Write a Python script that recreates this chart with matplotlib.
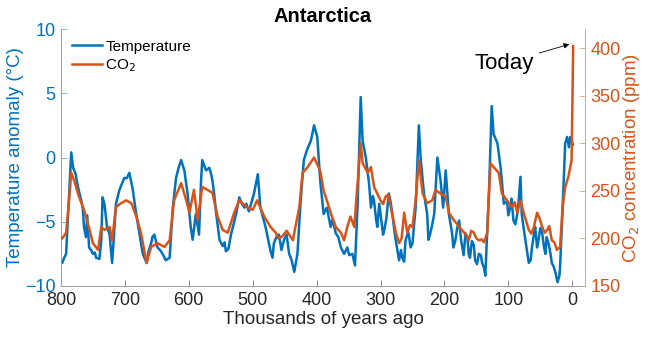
import matplotlib
matplotlib.use("Agg")
import matplotlib.pyplot as plt
import numpy as np

plt.rcParams['font.family'] = ['Liberation Sans', 'DejaVu Sans']

# ---- data (ages in thousands of years ago) ----
temp_age = [800, 798, 795, 792, 788, 784, 781, 777, 772, 766, 764, 759, 756, 750, 745, 740, 737,
            735, 732, 728, 724, 720, 717, 714, 709, 701, 693, 688, 682, 677, 672, 666, 659, 654,
            649, 641, 636, 630, 625, 620, 612, 607, 602, 597, 594, 589, 584, 581, 579, 573, 568,
            563, 557, 552, 547, 542, 534, 526, 521, 513, 506, 498, 492, 488, 480, 472, 467, 459,
            451, 443, 435, 430, 425, 420, 415, 409, 404, 399, 394, 389, 384, 378, 370, 362, 357,
            352, 344, 340, 336, 331, 328, 323, 318, 315, 310, 305, 300, 294, 287, 281, 276, 271,
            266, 261, 256, 250, 245, 240, 237, 232, 227, 222, 216, 211, 206, 202, 198, 193, 188,
            183, 177, 172, 167, 162, 157, 152, 146, 141, 136, 130, 126, 123, 117, 112, 107, 102,
            97, 92, 86, 81, 79, 73, 68, 63, 58, 53, 47, 42, 37, 32, 26, 23, 19, 15, 11, 8, 5, 1, -1,
            469, 463, 455, 447, 439,
            186, 180, 174, 170, 164, 160, 154, 149, 143, 138,
            100, 95, 89, 84, 76, 70, 65, 60, 55, 50, 44, 40, 34, 29,
            296, 291, 284, 278, 268, 263, 258, 253, 248,
            775, 769, 761, 753, 747, 706, 697, 663, 657, 645, 616, 565, 560, 544, 538, 517, 510,
            375, 366, 349, 312, 307, 302, 225, 219, 20, 3]
temp_val = [-8.2, -8.2, -7.8, -7.5, -3.5, 0.4, -0.8, -1.3, -2.6, -3.9, -5.4, -4.5, -7.0, -7.5,
            -7.8, -7.9, -6.5, -3.1, -3.6, -5.4, -6.0, -8.2, -6.0, -3.6, -2.6, -1.6, -1.2, -2.4,
            -4.5, -6.0, -7.5, -8.2, -6.7, -6.0, -7.0, -7.5, -8.0, -7.8, -3.9, -1.6, -0.2, -1.0,
            -2.8, -5.4, -6.4, -4.4, -6.0, -2.0, -0.2, -1.0, -0.8, -1.8, -4.4, -6.4, -6.9, -7.3,
            -6.0, -4.4, -3.1, -3.9, -4.2, -2.8, -1.3, -3.9, -5.4, -7.3, -6.7, -6.0, -6.4, -7.5,
            -8.9, -7.5, -3.4, -0.2, 0.6, 1.3, 2.5, 1.6, -2.0, -4.4, -3.9, -5.4, -5.9, -7.0,
            -7.5, -7.0, -7.5, -8.4, -3.9, 4.7, 1.3, 0.0, -2.0, -3.9, -3.4, -5.4, -4.4, -5.6,
            -2.8, -4.6, -6.5, -8.0, -7.8, -6.5, -5.9, -6.7, -3.9, 2.5, -0.2, -2.8, -4.4, -5.9,
            -4.4, 0.0, -1.8, -3.9, -1.0, -4.4, -5.9, -6.5, -4.9, -7.0, -5.9, -7.5, -6.5, -8.0,
            -7.5, -8.2, -9.2, -2.3, 4.0, 1.8, 1.1, -0.8, -3.6, -3.4, -3.9, -4.9, -4.4, -1.5,
            -4.4, -6.5, -8.2, -7.0, -5.4, -6.5, -5.9, -7.5, -6.7, -8.2, -9.0, -9.7, -8.5, -3.9,
            1.1, 1.6, 0.8, 1.3, 1.0,
            -7.8, -6.2, -7.2, -6.0, -8.0,
            -7.0, -5.5, -6.4, -7.6, -6.2, -7.8, -6.8, -8.3, -7.6, -8.6,
            -4.5, -3.2, -5.2, -3.5, -5.5, -7.5, -8.0, -6.0, -7.0, -5.5, -7.0, -6.2, -7.5, -8.5,
            -6.0, -4.8, -3.5, -5.8, -7.2, -8.1, -6.0, -7.0, -5.5,
            -1.9, -3.2, -6.2, -7.2, -7.4, -2.2, -1.6, -7.3, -6.2, -7.2, -0.8, -1.3, -3.0, -6.6,
            -7.1, -3.6, -3.6, -4.8, -6.2, -7.6, -3.0, -4.8, -3.6, -6.4, -5.2, -9.2, 1.6]

co2_age = [800, 798, 792, 788, 784, 779, 772, 764, 758, 750, 742, 737, 732, 724, 720, 714, 706,
           698, 690, 682, 675, 666, 659, 649, 638, 630, 623, 612, 604, 599, 592, 586, 579, 571,
           563, 555, 547, 539, 529, 521, 510, 500, 493, 482, 472, 464, 454, 441, 435, 427, 422,
           415, 404, 397, 394, 389, 384, 378, 370, 362, 357, 352, 347, 341, 338, 331, 328, 320,
           315, 310, 305, 300, 292, 284, 276, 271, 263, 258, 250, 245, 240, 234, 227, 219, 214,
           206, 198, 193, 185, 177, 169, 162, 154, 146, 138, 133, 128, 123, 115, 110, 102, 94,
           86, 81, 76, 68, 60, 55, 47, 39, 32, 24, 19, 15, 11, 6, 1, -1.5,
           460, 447, 437,
           180, 173, 165, 158, 150, 142,
           98, 90, 84, 72, 64, 51, 43, 36, 28,
           296, 288, 280, 267, 254]
co2_val = [200, 200, 206, 235, 269, 260, 244, 230, 216, 195, 188, 212, 209, 212, 198, 233, 237,
           240, 237, 223, 206, 174, 191, 195, 191, 198, 240, 258, 240, 227, 251, 219, 254, 251,
           248, 223, 209, 206, 227, 240, 233, 230, 240, 223, 212, 206, 202, 202, 206, 233, 269,
           274, 285, 275, 270, 250, 240, 227, 212, 206, 198, 212, 223, 212, 240, 300, 279, 269,
           275, 254, 247, 240, 244, 233, 206, 195, 227, 206, 212, 240, 282, 247, 237, 240, 251,
           247, 244, 227, 219, 212, 206, 198, 206, 198, 196, 206, 279, 275, 269, 247, 240, 233,
           227, 240, 227, 209, 212, 227, 212, 209, 198, 188, 191, 233, 254, 265, 282, 402,
           200, 208, 198,
           215, 209, 202, 208, 200, 199,
           236, 238, 232, 218, 205, 221, 206, 213, 196,
           236, 246, 220, 200, 214]

xticks = [800, 700, 600, 500, 400, 300, 200, 100, 0]
temp_ticks = [-10, -5, 0, 5, 10]
co2_ticks = [150, 200, 250, 300, 350, 400]

BLUE = '#0072BD'
ORANGE = '#D95319'
GREY = '#262626'

ta = np.array(temp_age, float); tv = np.array(temp_val, float)
o = np.argsort(-ta); ta, tv = ta[o], tv[o]
ca = np.array(co2_age, float); cv = np.array(co2_val, float)
o = np.argsort(-ca); ca, cv = ca[o], cv[o]

fig = plt.figure(figsize=(6.47, 3.40), dpi=100)
ax = fig.add_axes([61/647, 1-286/340, (585-61)/647, (286-29)/340])
ax2 = ax.twinx()

l1, = ax.plot(ta, tv, color=BLUE, lw=1.8, label='Temperature')
l2, = ax2.plot(ca, cv, color=ORANGE, lw=1.8, label='CO$_2$')

ax.set_xlim(800, -20)
ax.set_ylim(-10, 10)
ax2.set_ylim(150, 420)
ax.set_xticks(xticks)
ax.set_xticklabels([str(t) for t in xticks])
ax.set_yticks(temp_ticks)
ax2.set_yticks(co2_ticks)

ax.tick_params(axis='x', direction='in', length=4, width=0.6, colors='#777777',
               labelcolor=GREY, labelsize=13, pad=4)
ax.tick_params(axis='y', direction='in', length=4, width=0.6, colors='#6fa6d6',
               labelcolor=BLUE, labelsize=13, pad=4)
ax2.tick_params(axis='y', direction='in', length=4, width=0.6, colors='#e0a080',
                labelcolor=ORANGE, labelsize=13, pad=4)

for a in (ax, ax2):
    a.spines['top'].set_visible(False)
ax.spines['left'].set_color('#6fa6d6')
ax.spines['bottom'].set_color('#999999')
ax2.spines['right'].set_color('#e0a080')
ax2.spines['left'].set_visible(False)
ax2.spines['bottom'].set_visible(False)
for s in ('left', 'bottom'):
    ax.spines[s].set_linewidth(0.7)
ax2.spines['right'].set_linewidth(0.7)
ax.spines['right'].set_visible(False)

ax.set_xlabel('Thousands of years ago', fontsize=13.5, color=GREY, labelpad=2)
ax.set_ylabel('Temperature anomaly (°C)', fontsize=13.5, color=BLUE, va='center')
ax.yaxis.set_label_coords(-0.087, 0.5)
ax2.set_ylabel('CO$_2$ concentration (ppm)', fontsize=13.5, color=ORANGE, va='center')
ax2.yaxis.set_label_coords(1.088, 0.5)
ax.set_title('Antarctica', fontsize=14.5, fontweight='bold', pad=5)

ax2.legend(handles=[l1, l2], loc='upper left', bbox_to_anchor=(0.0, 1.0), frameon=False,
           fontsize=11, handlelength=2.0, handletextpad=0.2, labelspacing=0.25,
           borderaxespad=0.3)

ax2.annotate('Today', xy=(4.5, 404), xytext=(60, 384), fontsize=16, color='black',
             ha='right', va='center',
             arrowprops=dict(arrowstyle='-|>', color='black', lw=0.6, mutation_scale=8,
                             shrinkA=2, shrinkB=0))

fig.savefig('out.png', dpi=100)
